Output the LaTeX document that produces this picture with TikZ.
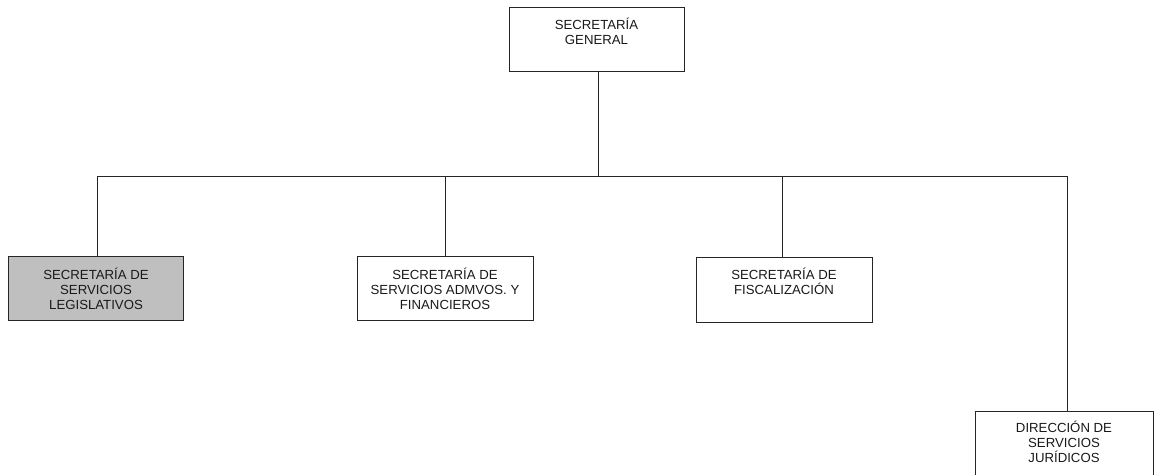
\documentclass[tikz,border=0pt]{standalone}
\usepackage{fontspec}
\setmainfont{Liberation Sans}
\begin{document}
\begin{tikzpicture}[x=1pt,y=-1pt,
  unit/.style={draw=black!85, line width=0.9pt, minimum width=175pt, minimum height=64pt,
    inner sep=0pt, outer sep=0pt, anchor=north west},
  shaded/.style={unit, fill=black!25},
  caption/.style={anchor=north, align=center, inner sep=0pt,
    font=\fontsize{13.2pt}{15pt}\selectfont, text=black!90},
  link/.style={draw=black!85, line width=0.9pt}]
\useasboundingbox (0,0) rectangle (1155,474);

% boxes
\node[unit] (sg) at (509,7) {};
\node[shaded] (sl) at (8.5,256.5) {};
\node[unit, minimum width=176pt] (sa) at (357,256.5) {};
\node[unit, minimum width=176pt, minimum height=65pt] (sf) at (696,257) {};
\node[unit, minimum width=178pt, minimum height=68pt] (dj) at (975,411) {};

% labels, set near the top edge of each box
\node[caption] (sgt) at ([yshift=-11pt]sg.north) {SECRETARÍA\\GENERAL};
\node[caption] (slt) at ([yshift=-11pt]sl.north) {SECRETARÍA DE\\SERVICIOS\\LEGISLATIVOS};
\node[caption] (sat) at ([yshift=-11pt]sa.north) {SECRETARÍA DE\\SERVICIOS ADMVOS. Y\\FINANCIEROS};
\node[caption] (sft) at ([yshift=-11pt]sf.north) {SECRETARÍA DE\\FISCALIZACIÓN};
\node[caption] (djt) at ([yshift=-10pt]dj.north) {DIRECCIÓN DE\\SERVICIOS\\JURÍDICOS};

% distribution bus
\coordinate (busL) at (97,176);
\coordinate (busR) at (1067,176);
\coordinate (topDrop) at (598,71);
\draw[link] (busL) -- (busR);
\draw[link] (topDrop) -- (topDrop |- busL);
\draw[link] (busL) -- (busL |- sl.north);
\draw[link] (sa.north |- busL) -- (sa.north);
\draw[link] ([xshift=-2pt]sf.north |- busL) -- ([xshift=-2pt]sf.north);
\draw[link] (busR) -- (busR |- dj.north);
\end{tikzpicture}
\end{document}
